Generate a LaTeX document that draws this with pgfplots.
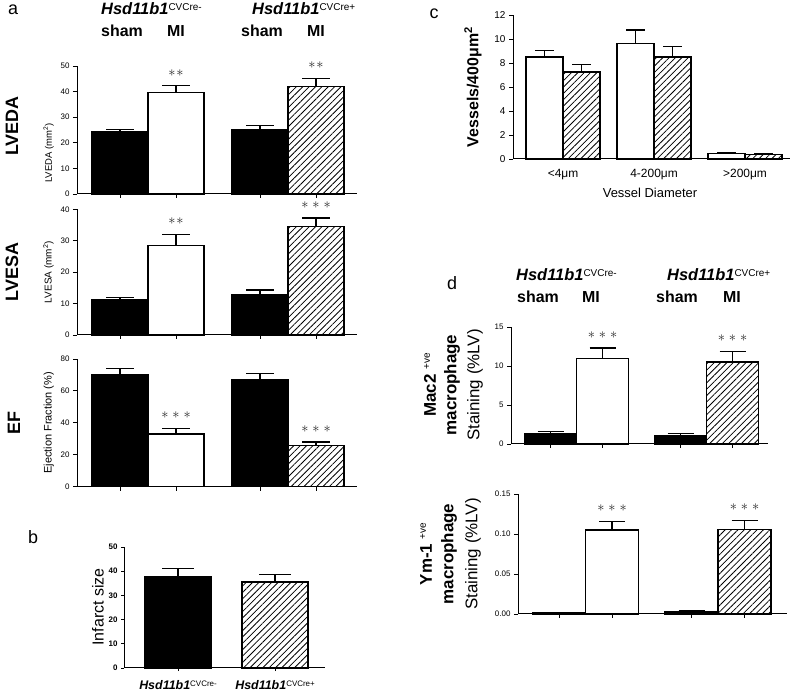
\documentclass[border=0pt]{standalone}
\usepackage{pgfplots}
\pgfplotsset{compat=1.18}
\usepackage{fontspec}
\setmainfont{Liberation Sans}
\usetikzlibrary{patterns.meta}

\newcommand{\fs}[1]{\fontsize{#1}{#1}\selectfont}
\newcommand{\hsdA}[1]{{\bfseries\itshape\fs{16.5}Hsd11b1}\raisebox{4.5bp}{\fs{10}CVCre#1}}
\newcommand{\hsdB}[1]{{\bfseries\itshape\fs{12.5}Hsd11b1}\raisebox{3.5bp}{\fs{8}CVCre#1}}
\newcommand{\two}{$\ast\mkern1mu\ast$}
\newcommand{\three}{$\ast\mkern1mu\ast\mkern1mu\ast$}

\tikzset{stars/.style={font=\fs{14.5}, text=black!85, yshift=13bp}}
\pgfplotsset{
  gp/.style={
    scale only axis, clip=false,
    axis lines=left,
    axis line style={-, line width=1bp},
    tick align=outside,
    major tick length=4bp,
    tick style={line width=0.9bp, black},
    ymin=0,
    xticklabels={},
    /pgf/number format/assume math mode=true,
    ticklabel style={font=\fs{8}},
  },
  blk/.style={ybar, bar shift=0pt, bar width=1, draw=black, fill=black, line width=1.2bp},
  wht/.style={ybar, bar shift=0pt, bar width=1, draw=black, fill=white, line width=1.2bp},
  hat/.style={ybar, bar shift=0pt, bar width=1, draw=black, fill=white, line width=1.2bp,
    postaction={pattern={Lines[angle=45,distance=4.5bp,line width=0.8bp]}}},
  errs/.style={error bars/y dir=plus, error bars/y explicit,
    error bars/error bar style={line width=1.2bp, black},
    error bars/error mark options={line width=1.2bp, black, rotate=90, mark size=#1}},
}

\begin{document}
\begin{tikzpicture}
\useasboundingbox (0,0) rectangle (792bp,695bp);

% panel a - headers
\node[inner sep=0, anchor=base west] at (101bp,680bp) {\hsdA{-}};
\node[inner sep=0, anchor=base west] at (252bp,680bp) {\hsdA{+}};
\node[inner sep=0, anchor=base west, font=\bfseries\fs{16}] at (101bp,658bp) {sham};
\node[inner sep=0, anchor=base west, font=\bfseries\fs{16}] at (167bp,658bp) {MI};
\node[inner sep=0, anchor=base west, font=\bfseries\fs{16}] at (241bp,658bp) {sham};
\node[inner sep=0, anchor=base west, font=\bfseries\fs{16}] at (307bp,658bp) {MI};
\node[font=\fs{18}] at (13bp,685bp) {a};
\node[rotate=90, font=\bfseries\fs{18}] at (12bp,569bp) {LVEDA};
\node[rotate=90, font=\bfseries\fs{18}] at (12bp,423bp) {LVESA};
\node[rotate=90, font=\bfseries\fs{18}] at (14bp,272bp) {EF};

% LVEDA
\begin{axis}[gp, at={(77bp,501bp)}, anchor=south west, width=280bp, height=128bp,
  xmin=0.232, xmax=5.232, ymax=50, ytick={0,10,...,50}, xtick={1,2,3.5,4.5},
  ylabel={LVEDA (mm\textsuperscript{2})}, ylabel style={font=\fs{9.5}, at={(ticklabel cs:0.32)}}]
\addplot[blk, errs=14bp] coordinates {(1,24.5) +- (0,0.6) (3.5,25) +- (0,1.7)};
\addplot[wht, errs=14bp] coordinates {(2,39.5) +- (0,2.8)};
\addplot[hat, errs=14bp] coordinates {(4.5,42) +- (0,3.2)};
\node[stars] at (axis cs:2,42.3) {\two};
\node[stars] at (axis cs:4.5,45.2) {\two};
\end{axis}

% LVESA
\begin{axis}[gp, at={(77bp,360bp)}, anchor=south west, width=280bp, height=125.7bp,
  xmin=0.232, xmax=5.232, ymax=40, ytick={0,10,...,40}, xtick={1,2,3.5,4.5},
  ylabel={LVESA (mm\textsuperscript{2})}, ylabel style={font=\fs{10}}]
\addplot[blk, errs=14bp] coordinates {(1,11.3) +- (0,0.6) (3.5,12.8) +- (0,1.5)};
\addplot[wht, errs=14bp] coordinates {(2,28.5) +- (0,3.5)};
\addplot[hat, errs=14bp] coordinates {(4.5,34.6) +- (0,2.6)};
\node[stars] at (axis cs:2,32) {\two};
\node[stars] at (axis cs:4.5,37.2) {\three};
\end{axis}

% EF
\begin{axis}[gp, at={(77bp,208.3bp)}, anchor=south west, width=280bp, height=127.7bp,
  xmin=0.232, xmax=5.232, ymax=80, ytick={0,20,...,80}, xtick={1,2,3.5,4.5},
  ylabel={Ejection Fraction (\%)}, ylabel style={font=\fs{11}}]
\addplot[blk, errs=14bp] coordinates {(1,70.5) +- (0,3.3) (3.5,67) +- (0,4)};
\addplot[wht, errs=14bp] coordinates {(2,33) +- (0,3.5)};
\addplot[hat, errs=14bp] coordinates {(4.5,26) +- (0,2)};
\node[stars] at (axis cs:2,36.5) {\three};
\node[stars] at (axis cs:4.5,28) {\three};
\end{axis}

% panel b
\node[font=\fs{18}] at (33bp,158bp) {b};
\node[rotate=90, font=\fs{16}] at (98bp,88bp) {Infarct size};
\begin{axis}[gp, at={(124bp,27bp)}, anchor=south west, width=201bp, height=121bp,
  xmin=0.443, xmax=2.515, ymax=50, ytick={0,10,...,50}, xtick={1,2},
  major tick length=3bp,
  xticklabels={\hsdB{-}, \hsdB{+}},
  yticklabel style={font=\bfseries\fs{8}},
  xticklabel style={yshift=-6bp}]
\addplot[blk, bar width=0.68, errs=16bp] coordinates {(1,37.8) +- (0,3.2)};
\addplot[hat, bar width=0.68, errs=16bp] coordinates {(2,35.5) +- (0,3)};
\end{axis}

% panel c
\node[font=\fs{18}] at (434bp,681bp) {c};
\node[rotate=90, font=\bfseries\fs{16}] at (473bp,608bp) {Vessels/400μm\textsuperscript{2}};
\node[font=\fs{13}] at (650bp,502bp) {Vessel Diameter};
\begin{axis}[gp, at={(513bp,536bp)}, anchor=south west, width=277bp, height=144bp,
  xmin=0.45, xmax=3.494, ymax=12, ytick={0,2,...,12}, xtick={1,2,3},
  xticklabels={<4μm, 4-200μm, >200μm},
  xtick style={draw=none},
  xticklabel style={font=\fs{12}, yshift=-3bp},
  yticklabel style={font=\fs{10}}]
\addplot[wht, bar width=0.4066, errs=9.5bp] coordinates {(0.797,8.5) +- (0,0.55) (1.797,9.6) +- (0,1.15) (2.797,0.45) +- (0,0.08)};
\addplot[hat, bar width=0.4066, errs=9.5bp] coordinates {(1.203,7.25) +- (0,0.6) (2.203,8.5) +- (0,0.9) (3.203,0.4) +- (0,0.07)};
\end{axis}

% panel d - headers
\node[font=\fs{18}] at (452bp,412bp) {d};
\node[inner sep=0, anchor=base west] at (516bp,414bp) {\hsdA{-}};
\node[inner sep=0, anchor=base west] at (667bp,414bp) {\hsdA{+}};
\node[inner sep=0, anchor=base west, font=\bfseries\fs{16}] at (517bp,392bp) {sham};
\node[inner sep=0, anchor=base west, font=\bfseries\fs{16}] at (582bp,392bp) {MI};
\node[inner sep=0, anchor=base west, font=\bfseries\fs{16}] at (656bp,392bp) {sham};
\node[inner sep=0, anchor=base west, font=\bfseries\fs{16}] at (723bp,392bp) {MI};

% Mac2
\node[rotate=90, font=\bfseries\fs{17}] at (430bp,310bp) {Mac2 \raisebox{6bp}{\mdseries\fs{10}+ve}};
\node[rotate=90, font=\bfseries\fs{17}] at (452bp,310bp) {macrophage};
\node[rotate=90, font=\fs{17}] at (475bp,310bp) {Staining (\%LV)};
\begin{axis}[gp, at={(511bp,251bp)}, anchor=south west, width=257bp, height=117bp,
  xmin=0.24, xmax=5.182, ymax=15, ytick={0,5,10,15}, xtick={1,2,3.5,4.5}]
\addplot[blk, errs=13bp] coordinates {(1,1.3) +- (0,0.3) (3.5,1.1) +- (0,0.25)};
\addplot[wht, errs=13bp] coordinates {(2,11) +- (0,1.3)};
\addplot[hat, errs=13bp] coordinates {(4.5,10.5) +- (0,1.4)};
\node[stars] at (axis cs:2,12.3) {\three};
\node[stars] at (axis cs:4.5,11.9) {\three};
\end{axis}

% Ym-1
\node[rotate=90, font=\bfseries\fs{17}] at (426bp,141bp) {Ym-1 \raisebox{6bp}{\mdseries\fs{10}+ve}};
\node[rotate=90, font=\bfseries\fs{17}] at (449bp,141bp) {macrophage};
\node[rotate=90, font=\fs{17}] at (473bp,141bp) {Staining (\%LV)};
\begin{axis}[gp, at={(518bp,81bp)}, anchor=south west, width=269bp, height=120bp,
  xmin=0.226, xmax=5.302, ymax=0.15, ytick={0,0.05,0.1,0.15}, xtick={1,2,3.5,4.5},
  scaled y ticks=false,
  yticklabel style={/pgf/number format/.cd, fixed, fixed zerofill, precision=2}]
\addplot[blk, errs=13bp] coordinates {(1,0.0015) +- (0,0.0003) (3.5,0.003) +- (0,0.0008)};
\addplot[wht, errs=13bp] coordinates {(2,0.105) +- (0,0.011)};
\addplot[hat, errs=13bp] coordinates {(4.5,0.106) +- (0,0.011)};
\node[stars] at (axis cs:2,0.116) {\three};
\node[stars] at (axis cs:4.5,0.117) {\three};
\end{axis}
\end{tikzpicture}
\end{document}
